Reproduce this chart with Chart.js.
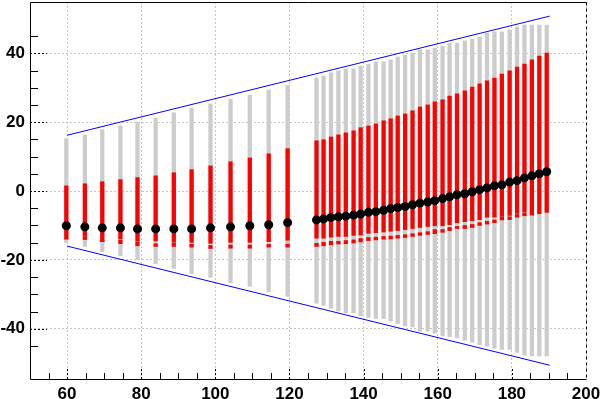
<!DOCTYPE html>
<html>
<head>
<meta charset="utf-8">
<script src="https://cdn.jsdelivr.net/npm/chart.js@4/dist/chart.umd.min.js"></script>
<style>
  body { margin: 0; background: #fff; }
</style>
</head>
<body>
<canvas id="myChart" width="604" height="399"></canvas>
<script>
// Positions along x (first 13 points, then the dense group of 32)
const xPos = [59.8, 64.8, 69.5, 74.4, 79.0, 83.9, 88.8, 93.6, 98.7, 104.1, 109.3, 114.4, 119.5,
    127.3, 129.2, 131.2, 133.2, 135.2, 137.3, 139.2, 141.3, 143.3, 145.4, 147.3, 149.2,
    151.2, 153.2, 155.2, 157.3, 159.2, 161.3, 163.2, 165.2, 167.3, 169.3, 171.3, 173.3,
    175.3, 177.3, 179.4, 181.4, 183.4, 185.4, 187.4, 189.4];

// Central values (black markers)
const mean = [-10.1, -10.4, -10.7, -10.7, -11.0, -11.0, -11.0, -11.0, -10.7, -10.4, -10.1, -9.8, -9.2,
    -8.4, -8.1, -7.7, -7.5, -7.3, -7.0, -6.7, -6.2, -6.0, -5.6, -5.1, -4.8,
    -4.5, -4.0, -3.5, -3.2, -2.8, -2.2, -1.7, -1.1, -0.8, -0.2, 0.4, 0.9,
    1.5, 1.8, 2.6, 3.0, 3.8, 4.4, 5.0, 5.6];

// Red band
const redHi = [1.5, 2.1, 2.7, 3.3, 3.9, 4.4, 5.3, 6.2, 7.3, 8.5, 9.6, 10.8, 12.3,
    14.6, 14.9, 15.7, 16.3, 16.9, 17.5, 18.4, 18.9, 19.5, 20.4, 21.0, 21.8,
    22.4, 23.3, 24.4, 25.0, 25.9, 26.5, 27.6, 28.2, 29.1, 30.2, 31.1, 32.0,
    32.8, 34.0, 34.9, 36.0, 36.9, 38.1, 39.2, 40.1];
const redLo = [-13.7, -13.2, -14.7, -13.9, -14.6, -14.5, -14.9, -14.9, -15.2, -14.9, -14.9, -14.7, -14.3,
    -13.7, -13.7, -13.4, -13.2, -13.2, -12.9, -12.8, -12.3, -12.1, -11.9, -11.7, -11.5,
    -11.2, -10.9, -10.6, -10.3, -10.1, -10.1, -9.8, -9.2, -8.9, -8.6, -8.3, -7.6,
    -7.6, -7.4, -7.1, -6.5, -6.0, -6.4, -5.9, -5.4];

// Short red piece below the band
const tailHi = [-13.6, -13.4, -14.4, -14.3, -14.9, -15.3, -15.2, -15.5, -15.8, -15.7, -15.7, -15.5, -15.4,
    -15.2, -14.9, -14.6, -14.6, -14.4, -14.2, -13.8, -13.5, -13.4, -13.2, -13.1, -12.9,
    -12.7, -12.4, -12.1, -11.8, -11.2, -11.2, -10.6, -10.3, -10.0, -9.7, -9.2, -8.8,
    -8.4, -7.6, -7.5, -6.8, -6.3, -6.4, -5.9, -5.4];
const tailLo = [-14.0, -14.1, -14.7, -15.3, -15.9, -16.1, -16.1, -16.3, -16.7, -16.6, -16.6, -16.3, -16.3,
    -16.1, -15.9, -15.6, -15.4, -15.3, -15.1, -14.8, -14.4, -14.2, -14.0, -13.9, -13.7,
    -13.5, -13.2, -12.9, -12.6, -12.4, -12.0, -11.5, -10.9, -10.9, -10.6, -10.0, -9.6,
    -9.2, -8.4, -8.3, -7.6, -7.2, -7.0, -6.6, -6.2];

// Grey band
const grayHi = [15.2, 16.3, 17.8, 18.9, 20.0, 21.2, 22.7, 24.1, 25.3, 26.7, 27.9, 29.3, 30.7,
    32.8, 33.4, 34.3, 34.9, 35.5, 35.5, 36.3, 36.9, 37.5, 37.5, 38.1, 38.9,
    39.5, 40.1, 41.0, 41.0, 41.5, 42.1, 43.0, 43.0, 43.6, 44.1, 44.7, 45.9,
    46.2, 46.2, 46.8, 47.6, 48.2, 48.2, 48.2, 48.2];
const grayLo = [-14.9, -16.1, -17.6, -18.8, -19.9, -21.1, -22.5, -24.0, -25.1, -26.6, -27.7, -29.2, -30.6,
    -32.6, -33.2, -34.1, -34.8, -35.3, -35.3, -36.2, -36.7, -37.0, -37.1, -37.8, -38.5,
    -39.2, -39.5, -40.7, -40.7, -41.3, -42.1, -42.4, -42.7, -43.3, -43.9, -44.6, -45.1,
    -45.7, -46.0, -46.0, -46.9, -47.7, -47.9, -47.9, -47.9];

// Blue envelope lines (end points)
const envX = [60, 190.2];
const envUp = [16.2, 50.8];
const envDown = [-16.0, -50.6];

// Axis ranges and labelled ticks
const xRange = [50, 200];
const yRange = [-54.6, 54.9];
const xLabels = [60, 80, 100, 120, 140, 160, 180, 200];
const yLabels = [-40, -20, 0, 20, 40];

const ctx = document.getElementById('myChart').getContext('2d');

function band(lo, hi) {
    return xPos.map((x, i) => ({ x: x, y: [lo[i], hi[i]] }));
}

// Inward ROOT style ticks and the frame
const frameTicks = {
    id: 'frameTicks',
    afterDraw(chart) {
        const { ctx, chartArea: a, scales: { x, y } } = chart;
        ctx.save();
        ctx.strokeStyle = '#000';
        ctx.lineWidth = 1;
        x.ticks.forEach(t => {
            if (t.value % 5 !== 0 || t.value <= xRange[0] || t.value >= xRange[1]) return;
            const px = Math.round(x.getPixelForValue(t.value)) + 0.5;
            const major = xLabels.includes(t.value);
            ctx.setLineDash(major ? [2, 2] : []);
            ctx.beginPath();
            ctx.moveTo(px, a.bottom);
            ctx.lineTo(px, a.bottom - (major ? 11 : 6));
            ctx.stroke();
        });
        y.ticks.forEach(t => {
            if (t.value % 5 !== 0) return;
            const py = Math.round(y.getPixelForValue(t.value)) + 0.5;
            const major = yLabels.includes(t.value);
            ctx.setLineDash(major ? [2, 2] : []);
            ctx.beginPath();
            ctx.moveTo(a.left, py);
            ctx.lineTo(a.left + (major ? 17 : 8), py);
            ctx.stroke();
        });
        const l = Math.round(a.left) + 0.5, r = Math.round(a.right) + 0.5;
        const t = Math.round(a.top) + 0.5, b = Math.round(a.bottom) + 0.5;
        ctx.setLineDash([]);
        ctx.beginPath();
        ctx.moveTo(r, t); ctx.lineTo(l, t); ctx.lineTo(l, b); ctx.lineTo(r, b);
        ctx.stroke();
        ctx.setLineDash([3, 3]);
        ctx.beginPath();
        ctx.moveTo(r, t); ctx.lineTo(r, b);
        ctx.stroke();
        ctx.restore();
    }
};

const tickFont = { family: 'Liberation Sans', size: 17, weight: 'bold' };

new Chart(ctx, {
    type: 'bar',
    data: {
        datasets: [
            { type: 'line', data: [{ x: envX[0], y: envUp[0] }, { x: envX[1], y: envUp[1] }],
              borderColor: '#0000ff', borderWidth: 1, pointRadius: 0, order: 0 },
            { type: 'line', data: [{ x: envX[0], y: envDown[0] }, { x: envX[1], y: envDown[1] }],
              borderColor: '#0000ff', borderWidth: 1, pointRadius: 0, order: 0 },
            { type: 'scatter', data: xPos.map((x, i) => ({ x: x, y: mean[i] })),
              backgroundColor: '#000', borderColor: '#000', pointRadius: 4.5, borderWidth: 0, order: 1 },
            { data: band(redLo, redHi), backgroundColor: '#ff0000', barThickness: 3.6, grouped: false, order: 2 },
            { data: band(tailLo, tailHi), backgroundColor: '#ff0000', barThickness: 3.6, grouped: false, order: 2 },
            { data: band(grayLo, grayHi), backgroundColor: '#cccccc', barThickness: 3.6, grouped: false, order: 3 }
        ]
    },
    options: {
        responsive: false,
        animation: false,
        layout: { autoPadding: false, padding: { left: 0, top: 2, right: 18, bottom: 0 } },
        plugins: { legend: { display: false }, tooltip: { enabled: false } },
        scales: {
            x: {
                type: 'linear',
                min: xRange[0], max: xRange[1],
                offset: false,
                afterFit: s => { s.height = 20; s.paddingLeft = 0; s.paddingRight = 0; },
                grid: {
                    offset: false, drawTicks: false, lineWidth: 1,
                    color: c => xLabels.includes(c.tick.value) ? '#c4c4c4' : 'rgba(0,0,0,0)'
                },
                border: { display: false, dash: [2, 2] },
                ticks: {
                    stepSize: 5, autoSkip: false, maxRotation: 0, padding: 5,
                    color: '#000', font: tickFont,
                    callback: v => xLabels.includes(v) ? String(v) : ''
                }
            },
            y: {
                type: 'linear',
                min: yRange[0], max: yRange[1],
                afterFit: s => { s.width = 30; s.paddingTop = 0; s.paddingBottom = 0; },
                grid: {
                    drawTicks: false, lineWidth: 1,
                    color: c => yLabels.includes(c.tick.value) ? '#c4c4c4' : 'rgba(0,0,0,0)'
                },
                border: { display: false, dash: [2, 2] },
                ticks: {
                    stepSize: 5, autoSkip: false, padding: 5,
                    color: '#000', font: tickFont,
                    callback: v => yLabels.includes(v) ? String(v) : ''
                }
            }
        }
    },
    plugins: [frameTicks]
});
</script>
</body>
</html>
